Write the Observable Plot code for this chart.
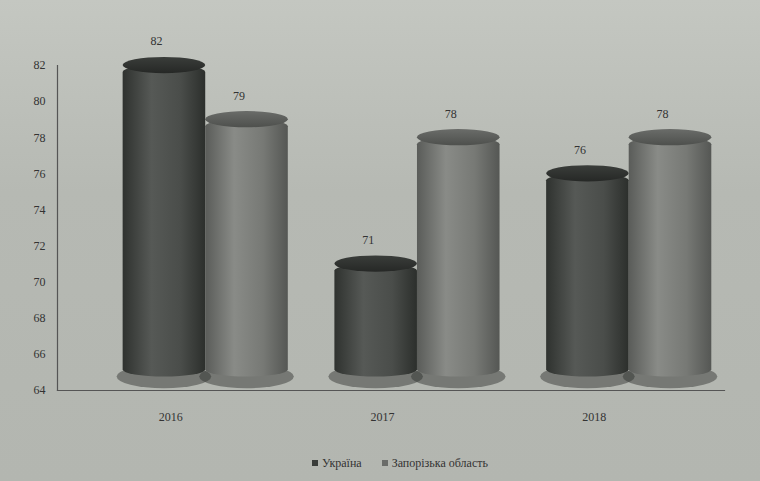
<!DOCTYPE html>
<html>
<head>
<meta charset="utf-8">
<script src="https://cdn.jsdelivr.net/npm/d3@7"></script>
<script src="https://cdn.jsdelivr.net/npm/@observablehq/plot@0.6"></script>
<style>
  html, body { margin: 0; padding: 0; background: #b9bcb6; }
  #chart { width: 760px; height: 481px; position: relative; overflow: hidden;
           background: linear-gradient(#c4c7c1, #b6b9b3 40%, #b3b6b0); }
  .legend { position: absolute; top: 456px; left: 0; width: 760px; text-align: center;
            font-family: "Liberation Serif", serif; font-size: 12px; color: #333; padding-left: 40px; box-sizing: border-box; }
  .legend span.item { margin: 0 10px; }
  .legend i { display: inline-block; width: 6px; height: 6px; margin-right: 4px; vertical-align: 1px; }
</style>
</head>
<body>
<div id="chart"></div>
<script>
const years = ["2016", "2017", "2018"];
const seriesNames = ["Україна", "Запорізька область"];
const ukraine = [82, 71, 76];
const zaporizhzhia = [79, 78, 78];
const yTicks = [64, 66, 68, 70, 72, 74, 76, 78, 80, 82];

const seriesValues = [ukraine, zaporizhzhia];
const barW = 0.39;
const base = yTicks[0];
const rows = years.flatMap((year, i) => seriesValues.map((vals, s) => ({
  year, i, s, series: seriesNames[s], value: vals[i],
  x1: i + (s - 1) * barW, x2: i + s * barW
})));
const ua = rows.filter(d => d.s === 0);
const zp = rows.filter(d => d.s === 1);

const bodies = [
  {data: ua, fill: "url(#gUA)", top: "url(#tUA)"},
  {data: zp, fill: "url(#gZP)", top: "url(#tZP)"}
];

const plot = Plot.plot({
  width: 760,
  height: 440,
  marginLeft: 57,
  marginRight: 36,
  marginTop: 65,
  marginBottom: 50,
  style: {background: "transparent", fontFamily: "Liberation Serif, serif", fontSize: "12px", color: "#333"},
  x: {domain: [-0.7, 2.45]},
  y: {domain: [yTicks[0], yTicks[yTicks.length - 1]]},
  marks: [
    Plot.frame({anchor: "left", stroke: "#555", strokeWidth: 1.2}),
    Plot.frame({anchor: "bottom", stroke: "#555", strokeWidth: 1.2}),
    Plot.axisY({ticks: yTicks, tickSize: 0, tickPadding: 12, label: null, fill: "#333"}),
    Plot.axisX({ticks: [0, 1, 2], tickFormat: i => years[i], tickSize: 0, tickPadding: 22, dx: -35, label: null, fill: "#333"}),
    // base shadows
    Plot.rect(rows, {x1: "x1", x2: "x2", y1: d => base + 0.1, y2: d => base + 1.4, rx: 100, ry: 100, fill: "#2a2c2a", fillOpacity: 0.45, insetLeft: -6, insetRight: -6}),
    ...bodies.flatMap(b => [
      Plot.rect(b.data, {x1: "x1", x2: "x2", y1: d => base + 0.75, y2: "value", fill: b.fill, rx: 100, ry: 7}),
      Plot.rect(b.data, {x1: "x1", x2: "x2", y1: d => d.value - 0.45, y2: d => d.value + 0.45, fill: b.top, rx: 100, ry: 100})
    ]),
    Plot.text(rows, {x: d => (d.x1 + d.x2) / 2, y: "value", text: d => String(d.value), dy: -24, dx: -8, fill: "#333", fontSize: 12})
  ]
});

const svg = d3.select(plot);
svg.insert("defs", ":first-child").html(`
  <linearGradient id="gUA" x1="0" x2="1" y1="0" y2="0">
    <stop offset="0" stop-color="#2f322f"/>
    <stop offset="0.35" stop-color="#565956"/>
    <stop offset="0.7" stop-color="#4a4d4a"/>
    <stop offset="1" stop-color="#2c2f2c"/>
  </linearGradient>
  <linearGradient id="gZP" x1="0" x2="1" y1="0" y2="0">
    <stop offset="0" stop-color="#5a5c59"/>
    <stop offset="0.35" stop-color="#898b87"/>
    <stop offset="0.7" stop-color="#777975"/>
    <stop offset="1" stop-color="#555754"/>
  </linearGradient>
  <linearGradient id="tUA" x1="0" x2="0" y1="0" y2="1">
    <stop offset="0" stop-color="#3a3d3a"/>
    <stop offset="1" stop-color="#262826"/>
  </linearGradient>
  <linearGradient id="tZP" x1="0" x2="0" y1="0" y2="1">
    <stop offset="0" stop-color="#6a6c69"/>
    <stop offset="1" stop-color="#4e504d"/>
  </linearGradient>
`);

const chart = document.getElementById("chart");
chart.appendChild(plot);
const legend = document.createElement("div");
legend.className = "legend";
legend.innerHTML = `<span class="item"><i style="background:#3a3d3a"></i>${seriesNames[0]}</span>` +
  `<span class="item"><i style="background:#6a6c69"></i>${seriesNames[1]}</span>`;
chart.appendChild(legend);
</script>
</body>
</html>
